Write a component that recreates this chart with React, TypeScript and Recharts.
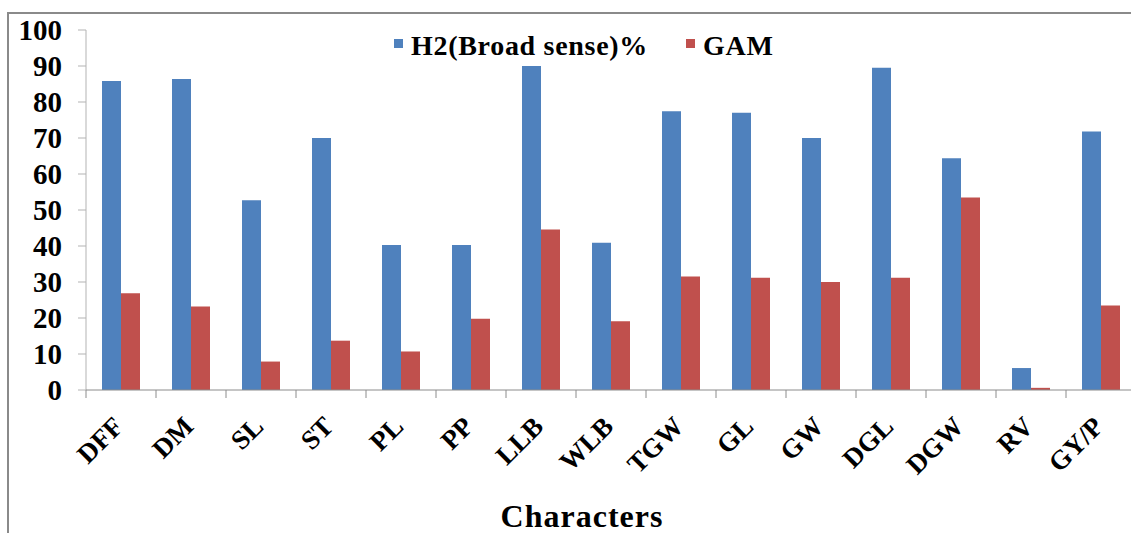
import { BarChart, Bar, XAxis, YAxis, Label } from 'recharts';

// Heritability (broad sense) and genetic advance as % of mean, per character
const characters = ['DFF', 'DM', 'SL', 'ST', 'PL', 'PP', 'LLB', 'WLB', 'TGW', 'GL', 'GW', 'DGL', 'DGW', 'RV', 'GY/P'];
const h2Values = [85.8, 86.4, 52.7, 70.0, 40.3, 40.3, 90.0, 40.9, 77.4, 77.0, 70.0, 89.5, 64.4, 6.1, 71.8];
const gamValues = [26.9, 23.2, 7.9, 13.7, 10.7, 19.8, 44.6, 19.1, 31.5, 31.2, 30.0, 31.2, 53.5, 0.6, 23.5];
const yTicks = [0, 10, 20, 30, 40, 50, 60, 70, 80, 90, 100];

const BLUE = '#4F81BD';
const RED = '#C0504D';
const FONT = '"Liberation Serif", "Times New Roman", serif';

const series = [
  { key: 'h2', name: 'H2(Broad sense)%', color: BLUE },
  { key: 'gam', name: 'GAM', color: RED },
];

const data = characters.map((c, i) => ({ name: c, h2: h2Values[i], gam: gamValues[i] }));

function CharTick(props: any) {
  const { x, y, payload, width } = props;
  const half = payload?.offset || width / characters.length / 2;
  const ax = x + 4;
  const ay = y + 38;
  return (
    <g>
      <line x1={x - half} x2={x - half} y1={y} y2={y + 8} stroke="#8c8c8c" strokeWidth={1} />
      <text
        x={ax}
        y={ay}
        transform={`rotate(-45, ${ax}, ${ay})`}
        textAnchor="end"
        fontFamily={FONT}
        fontWeight="bold"
        fontSize={27}
        fill="#000"
      >
        {payload.value}
      </text>
    </g>
  );
}

export default function App() {
  return (
    <div style={{ position: 'fixed', left: 0, top: 0, width: 1131, height: 533, overflow: 'hidden', background: '#fff' }}>
      <div
        style={{
          position: 'absolute',
          left: 7,
          top: 12,
          width: 1300,
          height: 700,
          borderLeft: '2px solid #8a8a8a',
          borderTop: '2px solid #8a8a8a',
        }}
      />
      <div style={{ position: 'absolute', left: 0, top: 0 }}>
        <BarChart
          width={1136}
          height={533}
          data={data}
          margin={{ top: 30, right: 0, left: 0, bottom: 0 }}
          barCategoryGap={16}
          barGap={0}
        >
          <YAxis
            width={86}
            domain={[0, 100]}
            ticks={yTicks}
            interval={0}
            axisLine={{ stroke: '#b3b3b3' }}
            tickLine={{ stroke: '#b3b3b3' }}
            tickSize={8}
            tickMargin={16}
            tick={{ fontFamily: FONT, fontWeight: 'bold', fontSize: 29, fill: '#000' }}
          />
          <XAxis
            dataKey="name"
            height={143}
            interval={0}
            tickLine={false}
            tickSize={0}
            tickMargin={0}
            axisLine={{ stroke: '#8c8c8c' }}
            tick={<CharTick />}
          >
            <Label
              value="Characters"
              position="insideBottom"
              offset={6}
              dx={-29}
              style={{ fontFamily: FONT, fontWeight: 'bold', fontSize: 32, letterSpacing: 1, fill: '#000' }}
            />
          </XAxis>
          {series.map((s) => (
            <Bar key={s.key} dataKey={s.key} name={s.name} fill={s.color} isAnimationActive={false} />
          ))}
        </BarChart>
      </div>
      <div
        style={{
          position: 'absolute',
          left: 394,
          top: 31,
          display: 'flex',
          alignItems: 'center',
          fontFamily: FONT,
          fontWeight: 'bold',
          fontSize: 28,
          letterSpacing: 0.7,
          lineHeight: '30px',
          color: '#000',
          whiteSpace: 'nowrap',
        }}
      >
        {series.map((s) => (
          <span key={s.key} style={{ display: 'flex', alignItems: 'center', marginRight: 38 }}>
            <span style={{ width: 9, height: 9, background: s.color, marginRight: 8, marginTop: -5 }} />
            {s.name}
          </span>
        ))}
      </div>
    </div>
  );
}
